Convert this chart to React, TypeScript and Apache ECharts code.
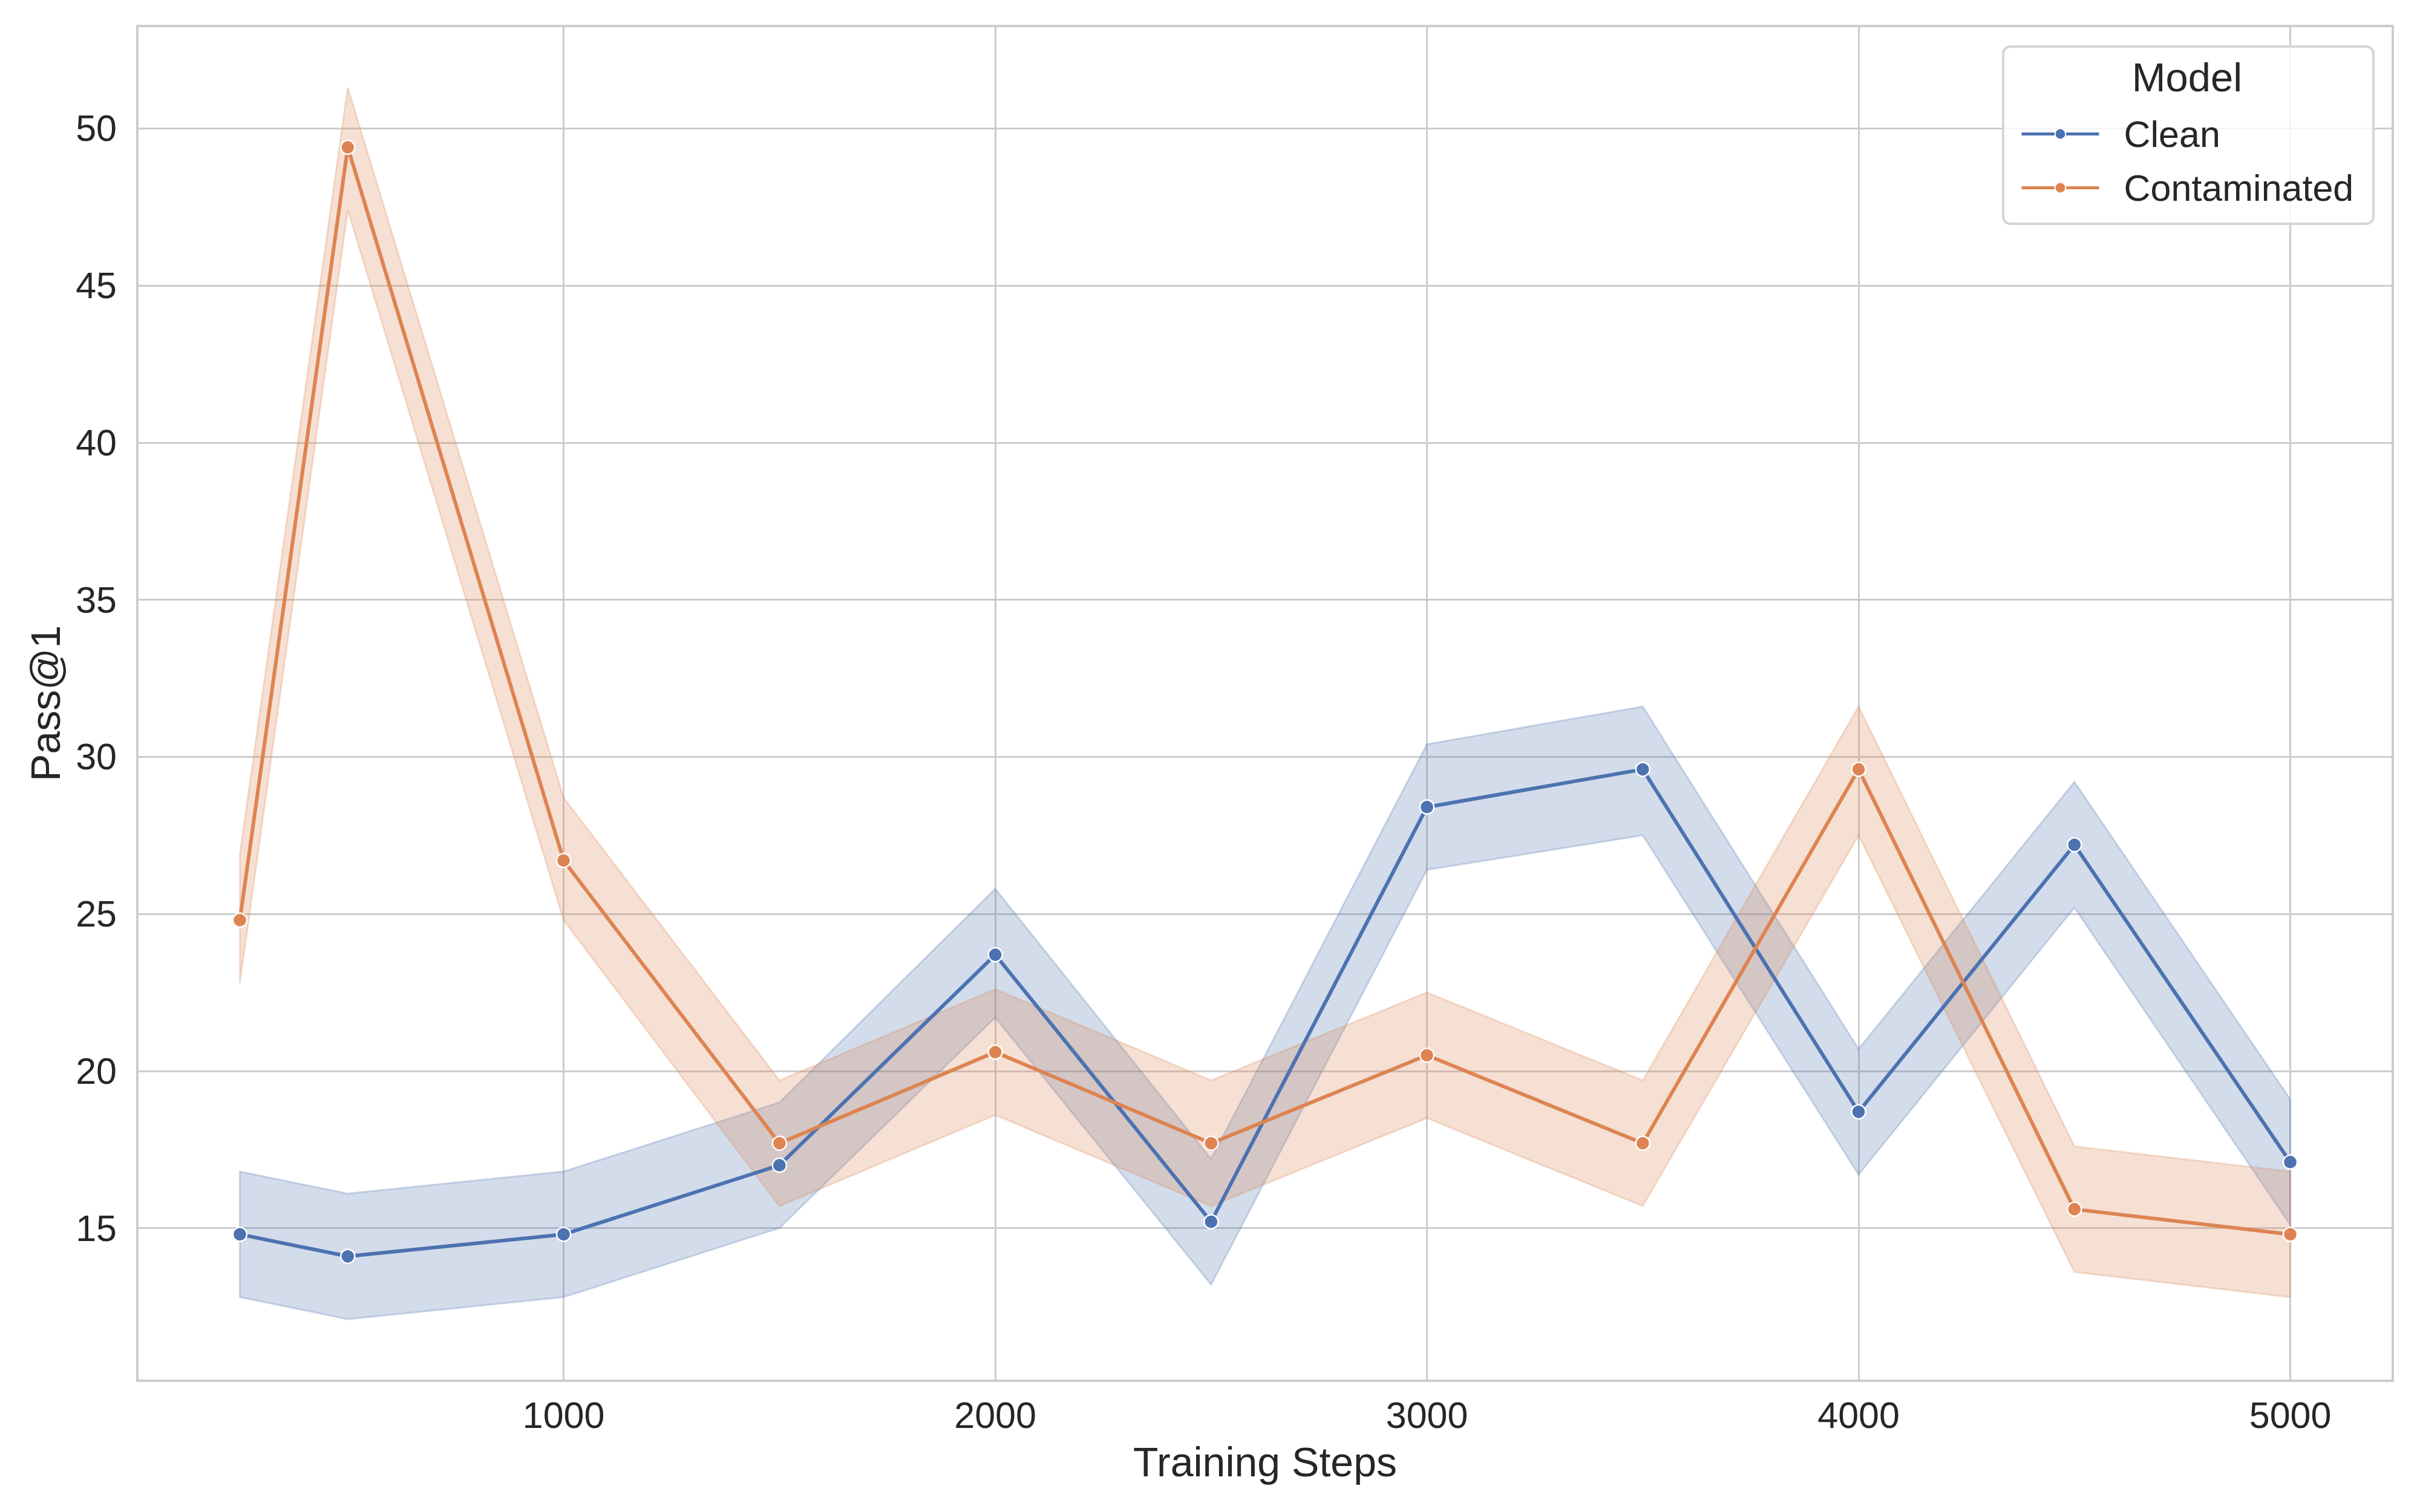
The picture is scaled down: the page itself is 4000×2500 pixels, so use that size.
import React, { useEffect, useRef } from "react";
import * as echarts from "echarts";

const steps = [250, 500, 1000, 1500, 2000, 2500, 3000, 3500, 4000, 4500, 5000];
const cleanMean = [14.8, 14.1, 14.8, 17.0, 23.7, 15.2, 28.4, 29.6, 18.7, 27.2, 17.1];
const cleanUpper = [16.8, 16.1, 16.8, 19.0, 25.8, 17.2, 30.4, 31.6, 20.7, 29.2, 19.1];
const cleanLower = [12.8, 12.1, 12.8, 15.0, 21.7, 13.2, 26.4, 27.5, 16.7, 25.2, 15.1];
const contMean = [24.8, 49.4, 26.7, 17.7, 20.6, 17.7, 20.5, 17.7, 29.6, 15.6, 14.8];
const contUpper = [26.9, 51.3, 28.7, 19.7, 22.6, 19.7, 22.5, 19.7, 31.6, 17.6, 16.8];
const contLower = [22.8, 47.4, 24.8, 15.7, 18.6, 15.7, 18.5, 15.7, 27.5, 13.6, 12.8];
const xTicks = [1000, 2000, 3000, 4000, 5000];
const yTicks = [15, 20, 25, 30, 35, 40, 45, 50];
const seriesNames = ["Clean", "Contaminated"];
const legendTitle = "Model";
const xLabel = "Training Steps";
const yLabel = "Pass@1";

const BLUE = "#4c72b0";
const ORANGE = "#dd8452";
const FONT = "Liberation Sans";
const TEXT = "#262626";

function bandSeries(name: string, lower: number[], upper: number[], fill: string, stroke: string) {
  return {
    type: "custom",
    name: name + " band",
    z: 1,
    silent: true,
    data: steps.map((x, i) => [x, lower[i], upper[i]]),
    encode: { x: 0, y: [1, 2] },
    renderItem: (params: any, api: any) => {
      if (params.dataIndex !== 0) return null;
      const pts: number[][] = [];
      for (let i = 0; i < steps.length; i++) pts.push(api.coord([steps[i], upper[i]]));
      for (let i = steps.length - 1; i >= 0; i--) pts.push(api.coord([steps[i], lower[i]]));
      return {
        type: "polygon",
        shape: { points: pts },
        style: { fill, stroke, lineWidth: 3 },
      };
    },
  };
}

function lineSeries(name: string, mean: number[], color: string) {
  return {
    type: "line",
    name,
    z: 3,
    data: steps.map((x, i) => [x, mean[i]]),
    symbol: "circle",
    symbolSize: 23,
    showSymbol: true,
    lineStyle: { color, width: 6 },
    itemStyle: { color, borderColor: "#ffffff", borderWidth: 2.5 },
  };
}

export default function App() {
  const ref = useRef<HTMLDivElement>(null);
  useEffect(() => {
    if (!ref.current) return;
    const chart = echarts.init(ref.current, undefined, { renderer: "svg" });
    const allLow = Math.min(...cleanLower, ...contLower);
    const allHigh = Math.max(...cleanUpper, ...contUpper);
    const yPad = (allHigh - allLow) * 0.05;
    const xPad = (steps[steps.length - 1] - steps[0]) * 0.05;
    chart.setOption({
      animation: false,
      backgroundColor: "#ffffff",
      textStyle: { fontFamily: FONT },
      grid: {
        left: 227,
        right: 45,
        top: 43,
        bottom: 217,
        show: true,
        borderColor: "#cccccc",
        borderWidth: 4,
        backgroundColor: "transparent",
      },
      xAxis: {
        type: "value",
        min: steps[0] - xPad,
        max: steps[steps.length - 1] + xPad,
        name: xLabel,
        nameLocation: "middle",
        nameGap: 100,
        nameTextStyle: { fontSize: 68, color: TEXT, fontFamily: FONT },
        axisLine: { show: false },
        axisTick: { show: false, customValues: xTicks },
        axisLabel: {
          customValues: xTicks,
          fontSize: 61,
          color: TEXT,
          margin: 26,
          fontFamily: FONT,
          formatter: (v: number) => String(v),
        },
        splitLine: { show: true, lineStyle: { color: "#cccccc", width: 3 } },
      },
      yAxis: {
        type: "value",
        min: allLow - yPad,
        max: allHigh + yPad,
        name: yLabel,
        nameLocation: "middle",
        nameGap: 118,
        nameTextStyle: { fontSize: 68, color: TEXT, fontFamily: FONT },
        axisLine: { show: false },
        axisTick: { show: false, customValues: yTicks },
        axisLabel: {
          customValues: yTicks,
          fontSize: 61,
          color: TEXT,
          margin: 34,
          fontFamily: FONT,
          formatter: (v: number) => String(v),
        },
        splitLine: { show: true, lineStyle: { color: "#cccccc", width: 3 } },
      },
      legend: {
        data: seriesNames,
        orient: "vertical",
        left: 3334,
        top: 186,
        itemWidth: 128,
        itemHeight: 22,
        itemGap: 28,
        z: 20,
        lineStyle: { width: 5 },
        textStyle: { fontSize: 61, color: TEXT, fontFamily: FONT, padding: [0, 0, 0, 36] },
      },
      graphic: [
        {
          type: "rect",
          z: 15,
          shape: { x: 3311, y: 77, width: 612, height: 293, r: 12 },
          style: { fill: "rgba(255,255,255,0.8)", stroke: "#d6d6d6", lineWidth: 4 },
        },
        {
          type: "text",
          z: 20,
          x: 3615,
          y: 127,
          style: {
            text: legendTitle,
            fontSize: 67,
            fontFamily: FONT,
            fill: TEXT,
            align: "center",
            verticalAlign: "middle",
          },
        },
      ],
      series: [
        bandSeries(seriesNames[0], cleanLower, cleanUpper, "rgba(76,114,176,0.25)", "rgba(76,114,176,0.25)"),
        bandSeries(seriesNames[1], contLower, contUpper, "rgba(221,132,82,0.25)", "rgba(221,132,82,0.25)"),
        lineSeries(seriesNames[0], cleanMean, BLUE),
        lineSeries(seriesNames[1], contMean, ORANGE),
      ],
    });
    return () => chart.dispose();
  }, []);
  return (
    <div
      ref={ref}
      style={{ position: "absolute", left: 0, top: 0, width: 4000, height: 2500 }}
    />
  );
}
